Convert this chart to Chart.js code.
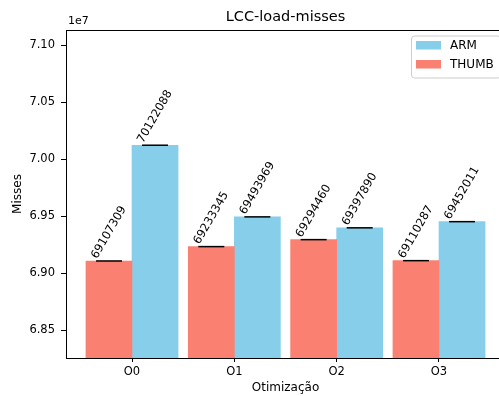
<!DOCTYPE html>
<html>
<head>
<meta charset="utf-8">
<script src="https://cdn.jsdelivr.net/npm/chart.js@4.4.1/dist/chart.umd.min.js"></script>
<style>
    html, body { margin: 0; padding: 0; background: #fff; }
    #wrap { width: 499px; height: 396px; overflow: hidden; }
    canvas { display: block; }
</style>
</head>
<body>
<div id="wrap"><canvas id="grafico" width="520" height="396"></canvas></div>
<script>
const categorias = ["O0", "O1", "O2", "O3"];
const missesThumb = [69107309, 69233345, 69294460, 69110287];
const missesArm = [70122088, 69493969, 69397890, 69452011];
const ticksY = [68500000, 69000000, 69500000, 70000000, 70500000, 71000000];
const limitesY = [68257000, 71132000];

const fonte = "DejaVu Sans";
const corThumb = "#FA8072";
const corArm = "#87CEEB";
const larguraBarra = 0.45;

// textos, caps de erro, moldura e legenda desenhados por cima do chart
const decoracao = {
    id: "decoracao",
    afterDatasetsDraw(chart) {
        const { ctx, scales: { y } } = chart;
        const ang = 60 * Math.PI / 180;

        chart.data.datasets.forEach((ds, d) => {
            const meta = chart.getDatasetMeta(d);
            meta.data.forEach((barra, i) => {
                const valor = ds.data[i].y;
                const py = y.getPixelForValue(valor);

                // cap da barra de erro
                ctx.save();
                ctx.strokeStyle = "#000";
                ctx.lineWidth = 1.5;
                ctx.beginPath();
                ctx.moveTo(barra.x - 13, py);
                ctx.lineTo(barra.x + 13, py);
                ctx.stroke();
                ctx.restore();

                // valor rotacionado 60 graus, centrado na barra
                ctx.save();
                ctx.font = `11.5px "${fonte}"`;
                ctx.fillStyle = "#000";
                const txt = String(valor);
                const w = ctx.measureText(txt).width;
                const h = 13;
                const alturaCaixa = w * Math.sin(ang) + h * Math.cos(ang);
                ctx.translate(barra.x, py - alturaCaixa / 2);
                ctx.rotate(-ang);
                ctx.textAlign = "center";
                ctx.textBaseline = "middle";
                ctx.fillText(txt, 0, 0);
                ctx.restore();
            });
        });
    },
    afterDraw(chart) {
        const { ctx, chartArea: ca } = chart;
        ctx.save();

        // moldura
        ctx.strokeStyle = "#000";
        ctx.lineWidth = 1;
        ctx.strokeRect(ca.left + 0.5, ca.top + 0.5, ca.right - ca.left, ca.bottom - ca.top);

        ctx.fillStyle = "#000";
        ctx.textAlign = "center";
        ctx.textBaseline = "middle";

        // titulo
        ctx.font = `14.5px "${fonte}"`;
        ctx.fillText("LCC-load-misses", (ca.left + ca.right) / 2, 17);

        // rotulos dos eixos
        ctx.font = `12px "${fonte}"`;
        ctx.fillText("Otimização", (ca.left + ca.right) / 2, 388);
        ctx.save();
        ctx.translate(18, (ca.top + ca.bottom) / 2);
        ctx.rotate(-Math.PI / 2);
        ctx.fillText("Misses", 0, 0);
        ctx.restore();

        // offset do eixo y
        ctx.font = `11px "${fonte}"`;
        ctx.textAlign = "left";
        ctx.fillText("1e7", ca.left + 2, 21);

        // legenda
        const caixa = { x: 411, y: ca.top + 5.5, w: ca.right - 5 - 411, h: 42 };
        ctx.fillStyle = "rgba(255,255,255,0.8)";
        ctx.strokeStyle = "#cccccc";
        ctx.lineWidth = 1;
        ctx.beginPath();
        ctx.roundRect(caixa.x + 0.5, caixa.y + 0.5, caixa.w, caixa.h, 3);
        ctx.fill();
        ctx.stroke();

        const itens = [["ARM", corArm], ["THUMB", corThumb]];
        itens.forEach(([nome, cor], k) => {
            const cy = caixa.y + 10 + k * 19;
            ctx.fillStyle = cor;
            ctx.fillRect(caixa.x + 5, cy - 4.5, 25, 8.5);
            ctx.fillStyle = "#000";
            ctx.font = `12px "${fonte}"`;
            ctx.textBaseline = "middle";
            ctx.fillText(nome, caixa.x + 39, cy);
        });

        ctx.restore();
    }
};

const fonteTicks = { family: fonte, size: 11.5 };

new Chart(document.getElementById("grafico"), {
    type: "bar",
    data: {
        datasets: [
            {
                label: "THUMB",
                data: missesThumb.map((v, i) => ({ x: i - larguraBarra / 2, y: v })),
                backgroundColor: corThumb,
                grouped: false,
                categoryPercentage: 1,
                barPercentage: 1
            },
            {
                label: "ARM",
                data: missesArm.map((v, i) => ({ x: i + larguraBarra / 2, y: v })),
                backgroundColor: corArm,
                grouped: false,
                categoryPercentage: 1,
                barPercentage: 1
            }
        ]
    },
    options: {
        responsive: false,
        animation: false,
        layout: { padding: { top: 30, right: 15, bottom: 0, left: 0 } },
        plugins: {
            legend: { display: false },
            title: { display: false },
            tooltip: { enabled: false }
        },
        scales: {
            x: {
                type: "linear",
                min: -0.645,
                max: 3.645,
                offset: false,
                grid: { drawOnChartArea: false, offset: false, tickLength: 4, tickColor: "#000", tickWidth: 1 },
                border: { display: false },
                ticks: {
                    includeBounds: false,
                    color: "#000",
                    font: fonteTicks,
                    padding: 3,
                    maxRotation: 0,
                    callback: (v) => categorias[v]
                },
                afterBuildTicks: (s) => { s.ticks = categorias.map((c, i) => ({ value: i })); },
                afterFit: (s) => { s.height = 38; }
            },
            y: {
                min: limitesY[0],
                max: limitesY[1],
                grid: { drawOnChartArea: false, tickLength: 5, tickColor: "#000", tickWidth: 1 },
                border: { display: false },
                ticks: {
                    includeBounds: false,
                    color: "#000",
                    font: fonteTicks,
                    padding: 6,
                    callback: (v) => (v / 1e7).toFixed(2)
                },
                afterBuildTicks: (s) => { s.ticks = ticksY.map((v) => ({ value: v })); },
                afterFit: (s) => { s.width = 66; }
            }
        }
    },
    plugins: [decoracao]
});
</script>
</body>
</html>
